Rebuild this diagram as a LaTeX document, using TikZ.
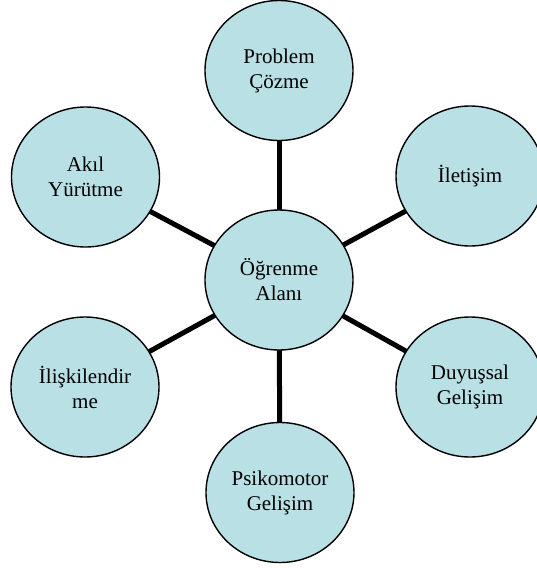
\documentclass[tikz,border=0pt]{standalone}
\usepackage{fontspec}
\setmainfont{Liberation Serif}
\usetikzlibrary{shapes.geometric}
\definecolor{bubblefill}{RGB}{185,224,228}
\pgfdeclarelayer{back}
\pgfsetlayers{back,main}
\tikzset{
  bubble/.style={ellipse, draw=black, line width=1.4pt, fill=bubblefill,
    minimum width=148pt, minimum height=140pt, inner sep=0pt, align=center,
    font=\fontsize{21}{25}\selectfont},
  spoke/.style={line width=5pt, black}
}
\begin{document}
\begin{tikzpicture}[x=1pt,y=-1pt]
  \useasboundingbox (0,0) rectangle (536,568);
  % hub and the six areas around it
  \node[bubble] (hub) at (279,280) {Öğrenme\\Alanı};
  \node[bubble] (prob) at (279,70.5) {Problem\\Çözme};
  \node[bubble] (ilet) at (470,176) {İletişim};
  \node[bubble] (duy) at (470,387) {Duyuşsal\\Gelişim};
  \node[bubble] (psi) at (280,492.5) {Psikomotor\\Gelişim};
  \node[bubble] (ilis) at (85,387) {İlişkilendir\\me};
  \node[bubble] (akil) at (85.5,177) {Akıl\\Yürütme};
  % spokes, drawn under the bubbles
  \begin{pgfonlayer}{back}
    \foreach \n in {prob,ilet,duy,psi,ilis,akil}
      \draw[spoke] (hub.center) -- (\n.center);
  \end{pgfonlayer}
\end{tikzpicture}
\end{document}
